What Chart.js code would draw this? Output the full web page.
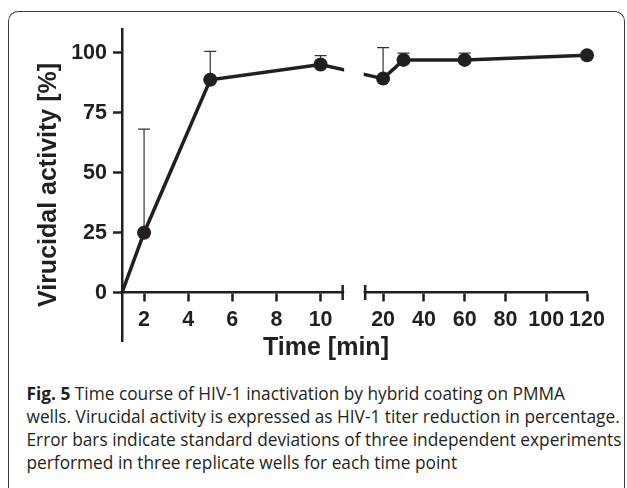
<!DOCTYPE html>
<html>
<head>
<meta charset="utf-8">
<script src="https://cdn.jsdelivr.net/npm/chart.js@4.4.0/dist/chart.umd.min.js"></script>
<style>
  html, body { margin: 0; padding: 0; background: #fff; overflow: hidden; }
  body { width: 627px; height: 488px; position: relative; }
  .frame {
    position: absolute; left: 8px; top: 11px; width: 615px; height: 520px;
    border: 1.5px solid #3c3c3c; border-bottom: none; border-radius: 10px 10px 0 0;
  }
  #chart { position: absolute; left: 0; top: 0; }
  .caption {
    position: absolute; left: 26.5px; top: 381.5px; white-space: nowrap;
    font-family: "Open Sans", sans-serif; font-size: 17.3px; line-height: 23px; color: #231f20;
  }
  .caption b { font-weight: 700; }
</style>
</head>
<body>
<div class="frame"></div>
<canvas id="chart" width="627" height="372"></canvas>
<div class="caption">
  <b>Fig. 5</b> Time course of HIV-1 inactivation by hybrid coating on PMMA<br>
  wells. Virucidal activity is expressed as HIV-1 titer reduction in percentage.<br>
  Error bars indicate standard deviations of three independent experiments<br>
  performed in three replicate wells for each time point
</div>
<script>
const TIMES = [1, 2, 5, 10, 20, 30, 60, 120];
const ACTIVITY = [0, 25, 88.8, 95.2, 89.3, 97.1, 97.1, 99.0];
const ACTIVITY_SD = [0, 43.2, 11.9, 3.7, 12.9, 2.8, 2.8, 0.5];
const X_TICK_VALUES = [2, 4, 6, 8, 10, 20, 40, 60, 80, 100, 120];
const X_TICK_LABELS = ["2", "4", "6", "8", "10", "20", "40", "60", "80", "100", "120"];
const Y_TICKS = [0, 25, 50, 75, 100];

const INK = "#231f20";
const FONT = "'Liberation Sans', Arial, sans-serif";

// broken x axis: 1-11 min linear, then 11.2-120 min squeezed after a small gap
const SEG1_MIN = 1;
const SEG1_MAX = 11;
const SEG2_MIN = 11.2;
const SEG2_MAX = 120;
const GAP = 1.02;           // axis units left empty between the segments
const SEG2_SCALE = 0.0924;  // axis units per minute in the second segment

function toAxis(t) {
  if (t <= SEG1_MAX) return t;
  return SEG1_MAX + GAP + (t - SEG2_MIN) * SEG2_SCALE;
}

const errorBars = {
  id: "errorBars",
  beforeDatasetsDraw(chart) {
    const { ctx, scales: { x, y } } = chart;
    ctx.save();
    ctx.strokeStyle = "#333";
    ctx.lineWidth = 1.2;
    TIMES.forEach((t, i) => {
      if (!ACTIVITY_SD[i]) return;
      const px = x.getPixelForValue(toAxis(t));
      const y1 = y.getPixelForValue(ACTIVITY[i]);
      const y2 = y.getPixelForValue(ACTIVITY[i] + ACTIVITY_SD[i]);
      ctx.beginPath();
      ctx.moveTo(px, y1);
      ctx.lineTo(px, y2);
      ctx.moveTo(px - 6, y2);
      ctx.lineTo(px + 6, y2);
      ctx.stroke();
    });
    ctx.restore();
  },
};

const axisBreak = {
  id: "axisBreak",
  afterDatasetsDraw(chart) {
    const { ctx, chartArea, scales: { x, y } } = chart;
    const a = x.getPixelForValue(toAxis(SEG1_MAX));
    const b = x.getPixelForValue(toAxis(SEG2_MIN));
    const y0 = y.getPixelForValue(0);
    ctx.save();
    ctx.fillStyle = "#fff";
    ctx.fillRect(a + 1.5, chartArea.top, b - a - 3, y0 + 2 - chartArea.top);
    ctx.strokeStyle = INK;
    ctx.lineWidth = 2.5;
    ctx.beginPath();
    [a, b].forEach((px) => {
      ctx.moveTo(px, y0 - 7.5);
      ctx.lineTo(px, y0 + 7.5);
    });
    ctx.stroke();
    ctx.restore();
  },
};

const xTitle = {
  id: "xTitle",
  afterDraw(chart) {
    const { ctx } = chart;
    ctx.save();
    ctx.fillStyle = INK;
    ctx.font = "bold 25px " + FONT;
    ctx.textAlign = "center";
    ctx.textBaseline = "alphabetic";
    ctx.fillText("Time [min]", 326, 355);
    ctx.restore();
  },
};

new Chart(document.getElementById("chart").getContext("2d"), {
  type: "line",
  data: {
    datasets: [{
      data: TIMES.map((t, i) => ({ x: toAxis(t), y: ACTIVITY[i] })),
      borderColor: INK,
      backgroundColor: INK,
      borderWidth: 3.5,
      pointRadius: (c) => (c.dataIndex === 0 ? 0 : 7),
      pointBorderWidth: 0,
      pointBackgroundColor: INK,
      tension: 0,
      clip: false,
    }],
  },
  options: {
    responsive: false,
    animation: false,
    layout: { padding: { left: 20, top: 29, right: 40, bottom: 31 } },
    plugins: { legend: { display: false }, tooltip: { enabled: false } },
    scales: {
      x: {
        type: "linear",
        position: { y: 0 },
        min: toAxis(SEG1_MIN),
        max: toAxis(SEG2_MAX),
        afterBuildTicks: (s) => { s.ticks = X_TICK_VALUES.map((v) => ({ value: toAxis(v) })); },
        ticks: {
          autoSkip: false,
          maxRotation: 0,
          padding: 7,
          color: INK,
          font: { family: FONT, size: 21.5, weight: "bold" },
          callback: (v, i) => X_TICK_LABELS[i],
        },
        grid: { drawOnChartArea: false, drawTicks: true, tickLength: 8, tickWidth: 2.5, tickColor: INK },
        border: { display: true, color: INK, width: 2.5 },
      },
      y: {
        type: "linear",
        position: "left",
        min: -20.2,
        max: 110,
        afterBuildTicks: (s) => { s.ticks = Y_TICKS.map((v) => ({ value: v })); },
        afterFit: (s) => { s.width = 102; },
        ticks: {
          padding: 6,
          color: INK,
          font: { family: FONT, size: 21.5, weight: "bold" },
        },
        grid: { drawOnChartArea: false, drawTicks: true, tickLength: 9, tickWidth: 2.5, tickColor: INK },
        border: { display: true, color: INK, width: 2.5 },
        title: {
          display: true,
          text: "Virucidal activity [%]",
          color: INK,
          font: { family: FONT, size: 25, weight: "bold" },
          padding: { top: 14, bottom: 0 },
        },
      },
    },
  },
  plugins: [errorBars, axisBreak, xTitle],
});
</script>
</body>
</html>
